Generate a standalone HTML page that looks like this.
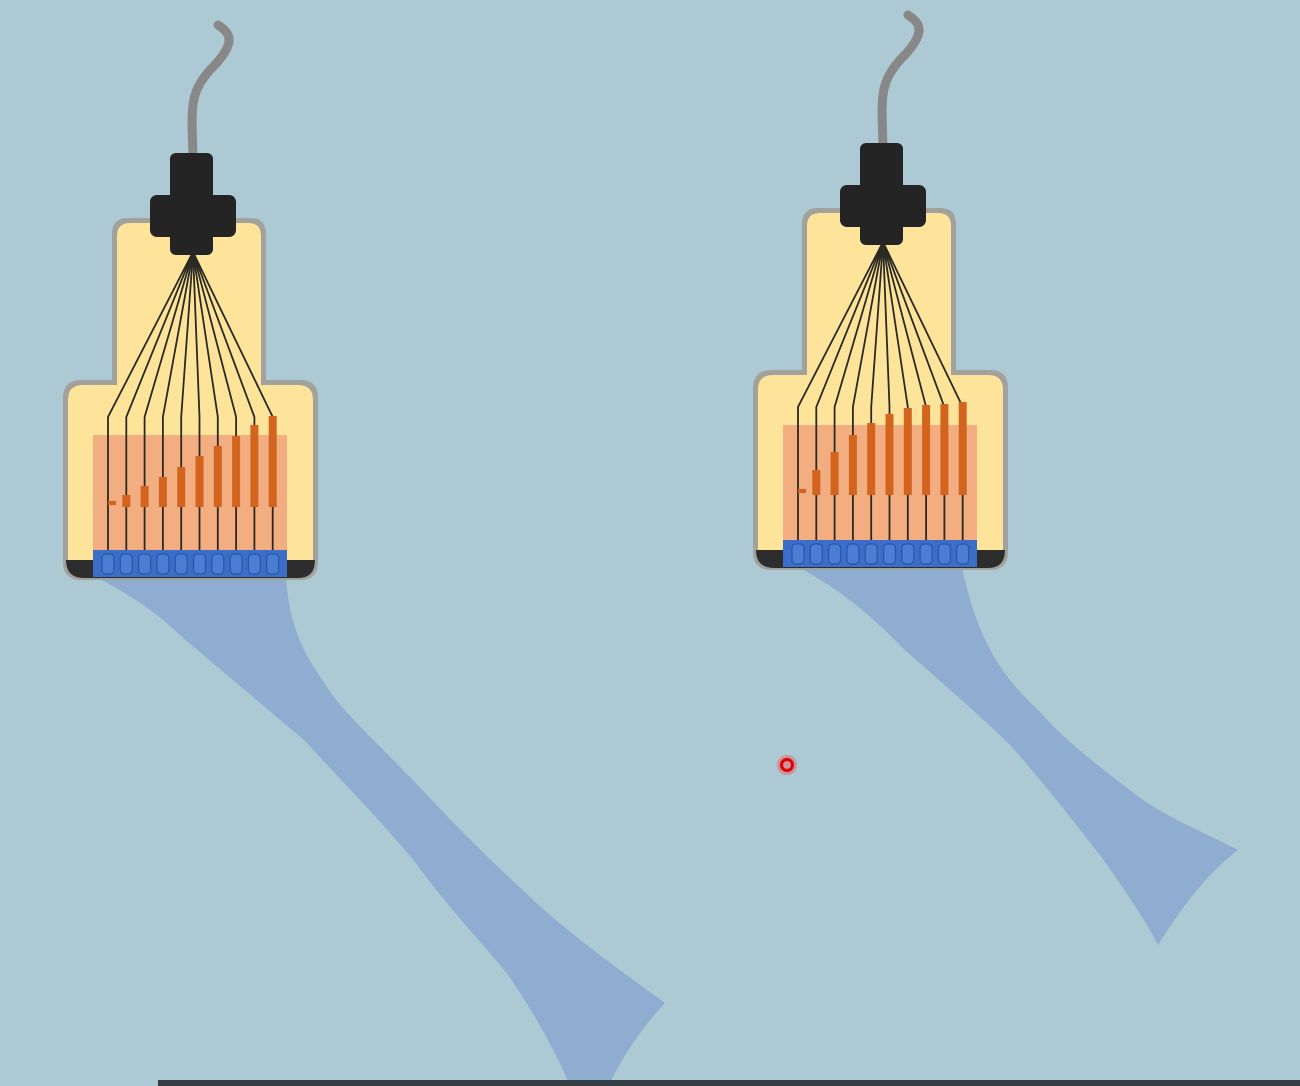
<!DOCTYPE html>
<html><head><meta charset="utf-8"><style>
html,body{margin:0;padding:0;background:#adc9d4;width:1300px;height:1086px;overflow:hidden}
svg{display:block}
</style></head><body>
<svg id="scene" width="1300" height="1086" viewBox="0 0 1300 1086">
<rect width="1300" height="1086" fill="#adc9d4"/>
<path fill="#8eadd0" d="M98,578 C140,600 165,620 182,637 L305,741 C350,790 380,820 415,862 C450,910 480,940 509,976 C535,1015 555,1050 570,1086 L609,1086 C620,1060 640,1030 665,1003 C620,970 570,935 529,896 C490,860 460,830 427,795 C380,745 340,710 325,684 C305,655 290,630 286,578 Z"/>
<path fill="#8eadd0" d="M800,568 C850,595 880,625 905,650 C950,690 985,720 1010,745 C1050,790 1080,830 1100,855 C1125,890 1145,920 1158,945 C1180,910 1205,875 1238,850 C1200,830 1160,815 1130,790 C1090,760 1060,735 1040,712 C1000,675 978,640 962,568 Z"/>
<g id="probes"></g>
<circle cx="787" cy="765" r="10" fill="#ff3030" opacity="0.35"/>
<circle cx="787" cy="765" r="5.5" fill="none" stroke="#e00000" stroke-width="3"/>
<rect x="158" y="1080" width="1142" height="6" fill="#333d44"/>
</svg>
<script>
const elementIndex=[0,1,2,3,4,5,6,7,8,9];
const leftDelays=[3,9,18,27,37,48,58,68,79,88];
const rightDelays=[3,22,40,57,69,78,84,87,88,90];
const NS="http://www.w3.org/2000/svg";
function mk(tag,attrs,parent){const e=document.createElementNS(NS,tag);for(const k in attrs)e.setAttribute(k,attrs[k]);parent.appendChild(e);return e;}
function probe(dx,dy,delays,name,dashBottom){
  const g=mk('g',{transform:`translate(${dx},${dy})`},document.getElementById('probes'));
  
  
  const cable=mk('path',{d:'M193,160 C192,110 188,95 210,70 C236,44 232,34 218,25',fill:'none',stroke:'#888',"stroke-width":9,"stroke-linecap":'round'},g);
  
  
  const outer=mk('path',{d:'M128,218 L250,218 Q266,218 266,234 L266,380 L300,380 Q318,380 318,398 L318,562 Q318,580 300,580 L82,580 Q63,580 63,562 L63,398 Q63,380 82,380 L112,380 L112,234 Q112,218 128,218 Z',fill:'#a2a29c'},g);
  
  
  mk('path',{d:'M130,223 L248,223 Q261,223 261,236 L261,385 L298,385 Q313,385 313,400 L313,560 L68,560 L68,400 Q68,385 83,385 L117,385 L117,236 Q117,223 130,223 Z',fill:'#fde49a'},g);
  mk('path',{d:'M66,560 L315,560 Q315,578 298,578 L84,578 Q66,578 66,560 Z',fill:'#2d2d2d'},g);
  const panel=mk('rect',{x:93,y:435,width:194,height:115,fill:'#f2ad80'},g);
  
  
  const xs=i=>108+i*18.3;
  elementIndex.forEach(i=>{
    const x=xs(i);
    const w=mk('path',{d:`M193,252 L${x},417 L${x},552`,fill:'none',stroke:'#2a2a22',"stroke-width":1.8},g);
    
    
  });
  elementIndex.forEach(i=>{
    const x=xs(i);const top=dashBottom-3-delays[i];
    let b;
    if(i===0){b=mk('rect',{x:x,y:dashBottom-6,width:8,height:4,fill:'#d2641e'},g);}
    else{b=mk('rect',{x:x-4,y:top,width:8,height:dashBottom-top,fill:'#d2641e'},g);}
    
    
  });
  const strip=mk('rect',{x:93,y:550,width:194,height:27,fill:'#3a6ec8'},g);
  
  
  elementIndex.forEach(i=>{
    const c=mk('rect',{x:xs(i)-6,y:554,width:12,height:20,rx:4,fill:'#4a7ed2',stroke:'#2a56a8',"stroke-width":1.3},g);
    
    
  });
  const c1=mk('rect',{x:170,y:153,width:43,height:102,rx:6,fill:'#242424'},g);
  
  
  mk('rect',{x:150,y:195,width:86,height:42,rx:7,fill:'#242424'},g);
}
probe(0,0,leftDelays,'probe-left',507);
probe(690,-10,rightDelays,'probe-right',505);
</script>
</body></html>
